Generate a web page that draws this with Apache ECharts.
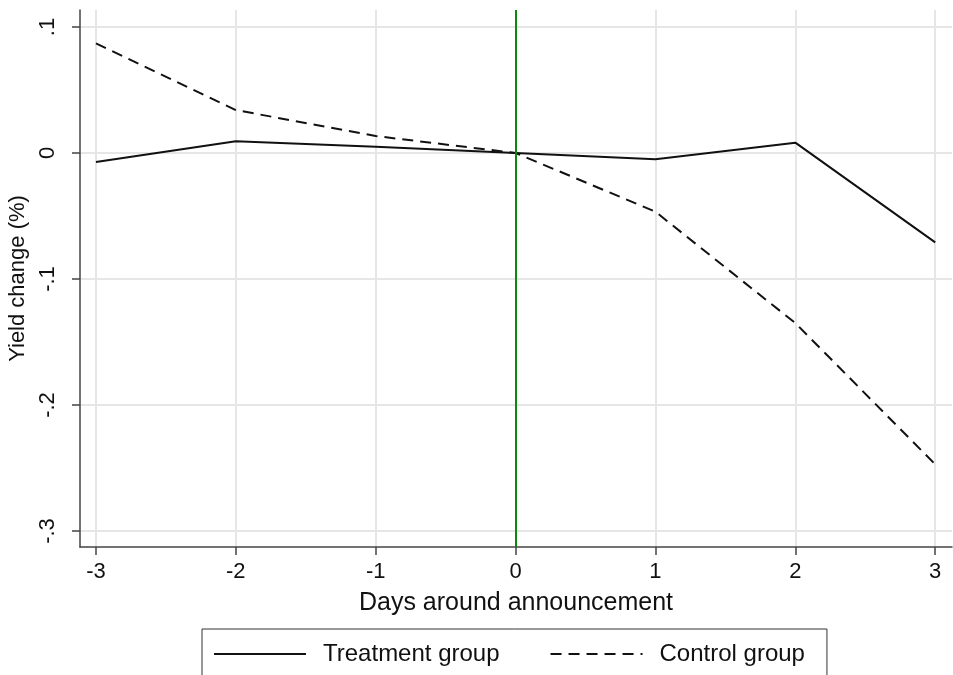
<!DOCTYPE html>
<html>
<head>
<meta charset="utf-8">
<script src="https://cdn.jsdelivr.net/npm/echarts@6/dist/echarts.min.js"></script>
<style>html,body{margin:0;padding:0;background:#fff}#c{width:953px;height:675px}</style>
</head>
<body>
<div id="c"></div>
<script>
var days = [-3, -2, -1, 0, 1, 2, 3];
var treatment = [-0.0071, 0.0093, 0.0050, 0.0000, -0.0050, 0.0082, -0.0709];
var control = [0.0870, 0.0341, 0.0135, 0.0000, -0.0466, -0.1350, -0.2471];
var xTicks = [-3, -2, -1, 0, 1, 2, 3];
var yTicks = [-0.3, -0.2, -0.1, 0, 0.1];
var eventDay = 0;

function pairs(vals) { return days.map(function (d, i) { return [d, vals[i]]; }); }
function fmtY(v) {
  var r = Math.round(v * 10) / 10;
  if (r === 0) return '0';
  var s = String(r);
  return s.replace('0.', '.');
}
var FONT = 'Liberation Sans, Arial, sans-serif';
var chart = echarts.init(document.getElementById('c'), null, {renderer: 'canvas'});
chart.setOption({
  animation: false,
  backgroundColor: '#fff',
  grid: {left: 80, right: 1, top: 10, bottom: 128, containLabel: false, outerBoundsMode: 'none'},
  xAxis: {
    type: 'value', min: -3.114, max: 3.12,
    name: 'Days around announcement', nameLocation: 'middle', nameGap: 44,
    nameTextStyle: {fontFamily: FONT, fontSize: 25, color: '#111'},
    axisLine: {show: true, onZero: false, lineStyle: {color: '#444', width: 1.5}},
    axisTick: {show: true, length: 8, customValues: xTicks, lineStyle: {color: '#444', width: 1.5}},
    axisLabel: {customValues: xTicks, fontFamily: FONT, fontSize: 22, color: '#111', margin: 14,
      formatter: function (v) { return String(v); }},
    splitLine: {show: true, lineStyle: {color: '#e6e6e6', width: 2}}
  },
  yAxis: {
    type: 'value', min: -0.3127, max: 0.1135,
    name: 'Yield change (%)', nameLocation: 'middle', nameGap: 46, nameRotate: 90,
    nameTextStyle: {fontFamily: FONT, fontSize: 22, color: '#111'},
    axisLine: {show: true, onZero: false, lineStyle: {color: '#444', width: 1.5}},
    axisTick: {show: true, length: 8, customValues: yTicks, lineStyle: {color: '#444', width: 1.5}},
    axisLabel: {customValues: yTicks, rotate: 90, fontFamily: FONT, fontSize: 22, color: '#111', margin: 21,
      formatter: fmtY},
    splitLine: {show: true, lineStyle: {color: '#e6e6e6', width: 2}}
  },
  legend: {
    left: 202, top: 629, width: 680,
    orient: 'horizontal',
    padding: [13, 22, 30, 11],
    borderColor: '#333', borderWidth: 1,
    itemWidth: 92, itemHeight: 20, itemGap: 50,
    itemStyle: {opacity: 0},
    textStyle: {fontFamily: FONT, fontSize: 24, color: '#111', padding: [0, 0, 0, 12]},
    data: ['Treatment group', 'Control group']
  },
  series: [
    {
      name: 'Treatment group', type: 'line', data: pairs(treatment),
      symbol: 'none', lineStyle: {color: '#111', width: 2, type: 'solid'}, itemStyle: {color: '#111'},
      markLine: {
        silent: true, symbol: 'none', label: {show: false},
        lineStyle: {color: '#0a8a0a', width: 2, type: 'solid'},
        data: [{xAxis: eventDay}]
      },
      z: 3
    },
    {
      name: 'Control group', type: 'line', data: pairs(control),
      symbol: 'none', lineStyle: {color: '#111', width: 2, type: [11, 7]}, itemStyle: {color: '#111'},
      z: 3
    }
  ]
});
</script>
</body>
</html>
